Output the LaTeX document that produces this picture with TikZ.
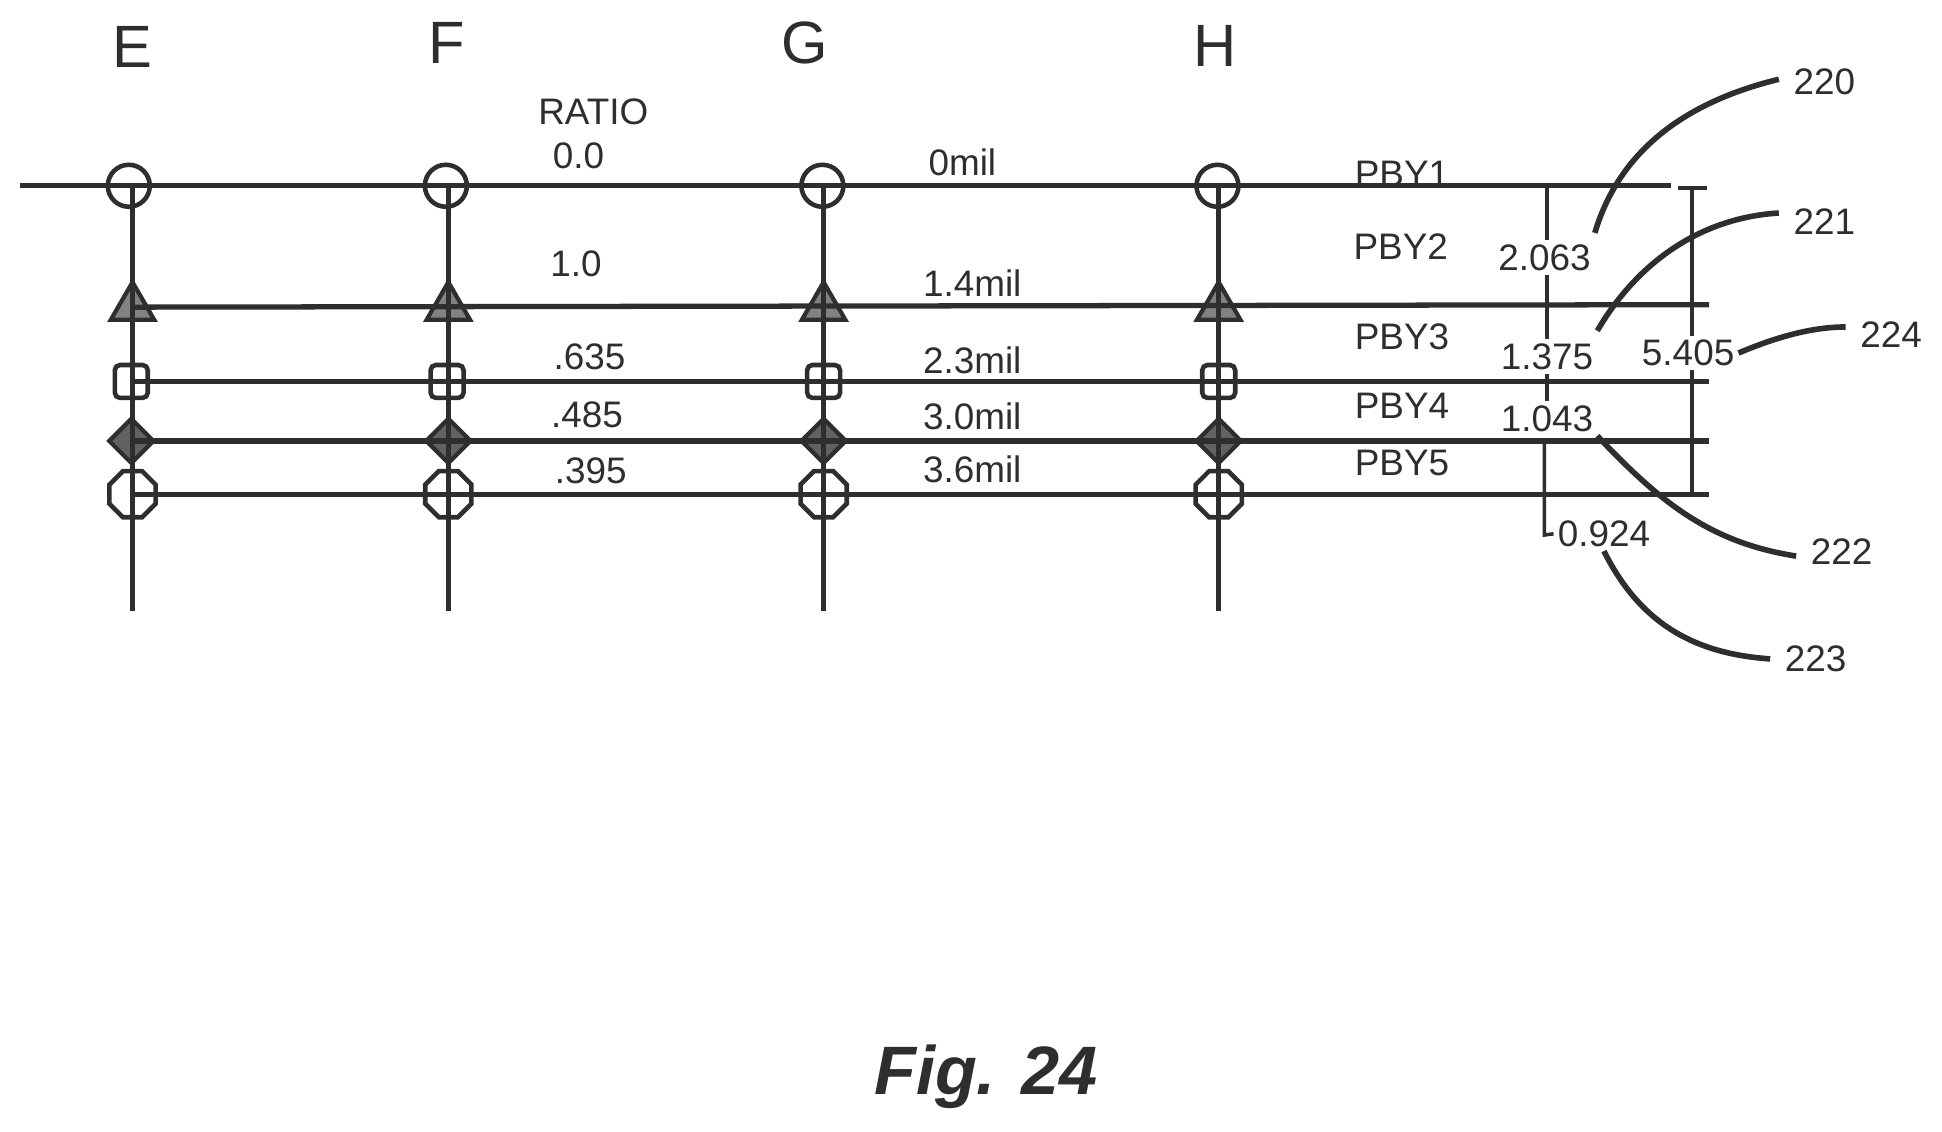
\documentclass[tikz,border=0pt]{standalone}
\usepackage{fontspec}
\setmainfont{Liberation Sans}
\usetikzlibrary{shapes.geometric}
\definecolor{ink}{gray}{0.18}
\tikzset{
  grid/.style={draw=ink,line width=1.5pt},
  thin line/.style={draw=ink,line width=1pt},
  lead/.style={draw=ink,line width=1.6pt},
  txt/.style={text=ink,font=\fontsize{10.5}{12}\selectfont,inner sep=1pt},
  refno/.style={txt,inner sep=4pt},
  col/.style={text=ink,font=\fontsize{17}{20}\selectfont,inner sep=0pt},
  mround/.style={circle,draw=ink,line width=1.3pt,minimum size=0.42cm,inner sep=0pt},
  mtri/.style={regular polygon,regular polygon sides=3,draw=ink,fill=ink!60,line width=1.2pt,minimum size=0.5cm,inner sep=0pt},
  msq/.style={rectangle,rounded corners=1.5pt,draw=ink,line width=1.3pt,minimum size=0.33cm,inner sep=0pt},
  mdia/.style={diamond,draw=ink,fill=ink!75,line width=1.2pt,minimum size=0.46cm,inner sep=0pt},
  moct/.style={regular polygon,regular polygon sides=8,draw=ink,line width=1.3pt,minimum size=0.5cm,inner sep=0pt}
}
\begin{document}
\begin{tikzpicture}[x=0.012385cm,y=-0.012385cm]
      \useasboundingbox (0,0) rectangle (1568,913.2);
      % column letters
      \node[col] (E) at (107,38) {E};
      \node[col] (F) at (361,35) {F};
      \node[col] (G) at (650,35) {G};
      \node[col] (H) at (981,37) {H};
      % markers
      \node[mround] (e1) at (104,150) {};
      \node[mround] (f1) at (360,150) {};
      \node[mround] (g1) at (664,150) {};
      \node[mround] (h1) at (983,150) {};
      \node[mtri] (e2) at (107,248) {};
      \node[mtri] (f2) at (362,248) {};
      \node[mtri] (g2) at (665,248) {};
      \node[mtri] (h2) at (984,248) {};
      \node[msq] (e3) at (106,308) {};
      \node[msq] (f3) at (361,308) {};
      \node[msq] (g3) at (665,308) {};
      \node[msq] (h3) at (984,308) {};
      \node[mdia] (e4) at (106,356) {};
      \node[mdia] (f4) at (362,356) {};
      \node[mdia] (g4) at (665,356) {};
      \node[mdia] (h4) at (984,356) {};
      \node[moct] (e5) at (107,399) {};
      \node[moct] (f5) at (362,399) {};
      \node[moct] (g5) at (665,399) {};
      \node[moct] (h5) at (984,399) {};
      % free ends of the lines
      \coordinate (l1) at (16,150);
      \coordinate (r1) at (1349,150);
      \coordinate (r2) at (1380,246);
      \coordinate (r3) at (1380,308);
      \coordinate (r4) at (1380,356);
      \coordinate (r5) at (1380,399);
      \coordinate (te) at (107,150);
      \coordinate (tf) at (362,150);
      \coordinate (tg) at (665,150);
      \coordinate (th) at (984,150);
      \coordinate (be) at (107,493);
      \coordinate (bf) at (362,493);
      \coordinate (bg) at (665,493);
      \coordinate (bh) at (984,493);
      \draw[grid] (l1) -- (r1);
      \draw[grid] (e2.center) -- (r2);
      \draw[grid] (e3.center) -- (r3);
      \draw[grid] (e4.center) -- (r4);
      \draw[grid] (e5.center) -- (r5);
      \draw[grid] (te) -- (be);
      \draw[grid] (tf) -- (bf);
      \draw[grid] (tg) -- (bg);
      \draw[grid] (th) -- (bh);
      % ratio column
      \node[txt] (ratio) at (479,90) {RATIO};
      \node[txt] (r00) at (467,126) {0.0};
      \node[txt] (r10) at (465,213) {1.0};
      \node[txt] (r635) at (476,288) {.635};
      \node[txt] (r485) at (474,335) {.485};
      \node[txt] (r395) at (477,380) {.395};
      % mil column
      \node[txt] (m0) at (777,131) {0mil};
      \node[txt] (m14) at (785,229) {1.4mil};
      \node[txt] (m23) at (785,291) {2.3mil};
      \node[txt] (m30) at (785,336) {3.0mil};
      \node[txt] (m36) at (785,379) {3.6mil};
      % layer names
      \node[txt] (p1) at (1132,140) {PBY1};
      \node[txt] (p2) at (1131,199) {PBY2};
      \node[txt] (p3) at (1132,272) {PBY3};
      \node[txt] (p4) at (1132,328) {PBY4};
      \node[txt] (p5) at (1132,374) {PBY5};
      % dimensions
      \node[txt] (d2063) at (1247,208) {2.063};
      \node[txt] (d1375) at (1249,288) {1.375};
      \node[txt] (d1043) at (1249,338) {1.043};
      \node[txt] (d0924) at (1295,431) {0.924};
      \node[txt] (d5405) at (1363,285) {5.405};
      \coordinate (t1) at (1249,150);
      \coordinate (t2) at (1366,150);
      \coordinate (t3) at (1366,399);
      \coordinate (t4) at (1247,358);
      \coordinate (t5) at (1247,432);
      \coordinate (c1) at (1355,152);
      \coordinate (c2) at (1378,152);
      \draw[thin line] (t1) -- (d2063.north -| t1);
      \draw[thin line] (d2063.south -| t1) -- (d1375.north -| t1);
      \draw[thin line] (d1375.south -| t1) -- (d1043.north -| t1);
      \draw[thin line] (t4) -- (t5) -- (d0924.west);
      \draw[thin line] (t2) -- (d5405.north -| t2);
      \draw[thin line] (d5405.south -| t2) -- (t3);
      \draw[thin line] (c1) -- (c2);
      % reference numbers and leaders
      \node[refno] (n220) at (1473,66) {220};
      \node[refno] (n221) at (1473,179) {221};
      \node[refno] (n222) at (1487,445) {222};
      \node[refno] (n223) at (1466,532) {223};
      \node[refno] (n224) at (1527,270) {224};
      \draw[lead] ([shift={(0,-6)}]d2063.north east) .. controls (1305,130) and (1350,85) .. ([shift={(0,-2)}]n220.west);
      \draw[lead] ([shift={(0,-7)}]d1375.north east) .. controls (1320,215) and (1370,176) .. ([shift={(0,-7)}]n221.west);
      \draw[lead] (d1043.south east) .. controls (1340,405) and (1380,438) .. ([shift={(0,4)}]n222.west);
      \draw[lead] (d0924.south) .. controls (1325,505) and (1370,528) .. (n223.west);
      \draw[lead] (d5405.east) .. controls (1430,274) and (1460,264) .. ([shift={(0,-6)}]n224.west);
      \node[text=ink,font=\fontsize{19.5}{24}\selectfont\bfseries\itshape] (fig) at (796,869) {Fig. 24};
    \end{tikzpicture}
\end{document}
